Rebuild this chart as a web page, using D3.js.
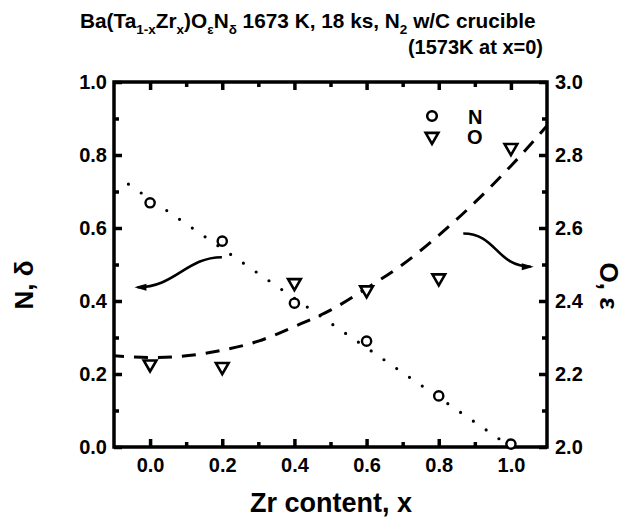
<!DOCTYPE html>
<html>
<head>
<meta charset="utf-8">
<script src="https://cdn.jsdelivr.net/npm/d3@7"></script>
<style>
  body { margin: 0; background: #fff; }
  svg { display: block; font-family: "Liberation Sans", Arial, sans-serif; font-weight: bold; }
</style>
</head>
<body>
<svg id="chart" width="625" height="519"></svg>
<script>
// measured data
var zr = [0.0, 0.2, 0.4, 0.6, 0.8, 1.0];
var nDelta = [0.669, 0.564, 0.394, 0.29, 0.14, 0.008];
var oEps = [2.227, 2.22, 2.45, 2.43, 2.463, 2.82];

// fitted lines
var nFitX = [-0.06, 1.0];
var nFitY = [0.72, 0.0];
var oFitX = [-0.1, 0.0, 0.1, 0.2, 0.3, 0.4, 0.5, 0.6, 0.7, 0.8, 0.9, 1.0, 1.1];
var oFitY = [2.25, 2.245, 2.25, 2.265, 2.29, 2.33, 2.375, 2.435, 2.5, 2.58, 2.67, 2.77, 2.88];

var xTicks = [0.0, 0.2, 0.4, 0.6, 0.8, 1.0];
var leftTicks = [0.0, 0.2, 0.4, 0.6, 0.8, 1.0];
var rightTicks = [2.0, 2.2, 2.4, 2.6, 2.8, 3.0];

var svg = d3.select('#chart');
var L = 114, R = 547, T = 82, B = 447;

var x = d3.scaleLinear().domain([-0.1, 1.1]).range([L, R]);
var yL = d3.scaleLinear().domain([0, 1]).range([B, T]);
var yR = d3.scaleLinear().domain([2, 3]).range([B, T]);

// minor ticks every 0.1
var xMinor = [0.1, 0.3, 0.5, 0.7, 0.9];
var yMinor = [0.1, 0.3, 0.5, 0.7, 0.9];

function tickStyle(g, w) {
	g.select('.domain').remove();
	g.selectAll('.tick line').attr('stroke', '#000').attr('stroke-width', w);
}

function labelStyle(g) {
	g.selectAll('text').attr('font-size', 20).attr('font-family', null).attr('fill', '#000');
}

// major + minor ticks on all four sides
var gx = svg.append('g').attr('transform', 'translate(0,' + B + ')')
	.call(d3.axisBottom(x).tickValues(xTicks).tickFormat(d3.format('.1f')).tickSizeInner(-8).tickSizeOuter(0).tickPadding(11));
tickStyle(gx, 3.5);
labelStyle(gx);
var gxm = svg.append('g').attr('transform', 'translate(0,' + B + ')')
	.call(d3.axisBottom(x).tickValues(xMinor).tickFormat('').tickSizeInner(-5).tickSizeOuter(0));
tickStyle(gxm, 3.5);

var gt = svg.append('g').attr('transform', 'translate(0,' + T + ')')
	.call(d3.axisTop(x).tickValues(xTicks).tickFormat('').tickSizeInner(-8).tickSizeOuter(0));
tickStyle(gt, 3.5);
var gtm = svg.append('g').attr('transform', 'translate(0,' + T + ')')
	.call(d3.axisTop(x).tickValues(xMinor).tickFormat('').tickSizeInner(-5).tickSizeOuter(0));
tickStyle(gtm, 3.5);

var gl = svg.append('g').attr('transform', 'translate(' + L + ',0)')
	.call(d3.axisLeft(yL).tickValues(leftTicks).tickFormat(d3.format('.1f')).tickSizeInner(-8).tickSizeOuter(0).tickPadding(7));
tickStyle(gl, 3.5);
labelStyle(gl);
var glm = svg.append('g').attr('transform', 'translate(' + L + ',0)')
	.call(d3.axisLeft(yL).tickValues(yMinor).tickFormat('').tickSizeInner(-5).tickSizeOuter(0));
tickStyle(glm, 3.5);

var gr = svg.append('g').attr('transform', 'translate(' + R + ',0)')
	.call(d3.axisRight(yR).tickValues(rightTicks).tickFormat(d3.format('.1f')).tickSizeInner(-8).tickSizeOuter(0).tickPadding(8));
tickStyle(gr, 3.5);
labelStyle(gr);
var grm = svg.append('g').attr('transform', 'translate(' + R + ',0)')
	.call(d3.axisRight(yR).tickValues(yMinor.map(function(v) { return v + 2; })).tickFormat('').tickSizeInner(-5).tickSizeOuter(0));
tickStyle(grm, 3.5);

// frame
svg.append('rect').attr('x', L).attr('y', T).attr('width', R - L).attr('height', B - T)
	.attr('fill', 'none').attr('stroke', '#000').attr('stroke-width', 3.5);

// fit lines
var nLine = d3.line().x(function(d, i) { return x(nFitX[i]); }).y(function(d) { return yL(d); });
svg.append('path').datum(nFitY).attr('d', nLine)
	.attr('fill', 'none').attr('stroke', '#000').attr('stroke-width', 3.2)
	.attr('stroke-linecap', 'round').attr('stroke-dasharray', '0 15.5');

var oLine = d3.line().curve(d3.curveMonotoneX).x(function(d, i) { return x(oFitX[i]); }).y(function(d) { return yR(d); });
svg.append('path').datum(oFitY).attr('d', oLine)
	.attr('fill', 'none').attr('stroke', '#000').attr('stroke-width', 3)
	.attr('stroke-dasharray', '14 10').attr('stroke-dashoffset', 4);

// markers
var tri = d3.symbol().type(d3.symbolTriangle).size(70);
svg.selectAll('.oPt').data(oEps).enter().append('path')
	.attr('class', 'oPt')
	.attr('d', tri)
	.attr('transform', function(d, i) { return 'translate(' + x(zr[i]) + ',' + yR(d) + ') rotate(180)'; })
	.attr('fill', '#fff').attr('stroke', '#000').attr('stroke-width', 2.6);

svg.selectAll('.nPt').data(nDelta).enter().append('circle')
	.attr('class', 'nPt')
	.attr('cx', function(d, i) { return x(zr[i]); })
	.attr('cy', function(d) { return yL(d); })
	.attr('r', 4.6)
	.attr('fill', '#fff').attr('stroke', '#000').attr('stroke-width', 2.4);

// legend
svg.append('circle').attr('cx', 432).attr('cy', 116).attr('r', 4.8)
	.attr('fill', 'none').attr('stroke', '#000').attr('stroke-width', 2.6);
svg.append('path').attr('d', tri).attr('transform', 'translate(432,136.5) rotate(180)')
	.attr('fill', 'none').attr('stroke', '#000').attr('stroke-width', 2.6);
svg.append('text').attr('x', 468).attr('y', 123.5).attr('font-size', 20).text('N');
svg.append('text').attr('x', 467).attr('y', 144).attr('font-size', 20).text('O');

// curved arrows pointing at the axis each series belongs to
function arrow(p0, c1, c2, p1, ys, dir) {
	var path = d3.path();
	path.moveTo(x(p0[0]), ys(p0[1]));
	path.bezierCurveTo(x(c1[0]), ys(c1[1]), x(c2[0]), ys(c2[1]), x(p1[0]), ys(p1[1]));
	svg.append('path').attr('d', path.toString())
		.attr('fill', 'none').attr('stroke', '#000').attr('stroke-width', 2.6);
	var ex = x(p1[0]), ey = ys(p1[1]);
	svg.append('path')
		.attr('d', 'M' + (ex + dir * 3) + ',' + ey + 'L' + (ex - dir * 9) + ',' + (ey - 3.5) + 'L' + (ex - dir * 9) + ',' + (ey + 3.5) + 'Z')
		.attr('fill', '#000');
}
arrow([0.199, 0.52], [0.10, 0.52], [0.07, 0.4375], [-0.035, 0.4375], yL, -1);
arrow([0.868, 2.585], [0.96, 2.585], [0.96, 2.494], [1.055, 2.494], yR, 1);

// title
var t1 = svg.append('text').attr('x', 80).attr('y', 28).attr('font-size', 20.8);
function sub(t, s) { t.append('tspan').attr('font-size', 13.5).attr('dy', 6).text(s); }
function main(t, s) { t.append('tspan').attr('dy', -6).text(s); }
t1.append('tspan').text('Ba(Ta');
sub(t1, '1-x'); main(t1, 'Zr');
sub(t1, 'x'); main(t1, ')O');
sub(t1, 'ε'); main(t1, 'N');
sub(t1, 'δ'); main(t1, ' 1673 K, 18 ks, N');
sub(t1, '2'); main(t1, ' w/C crucible');

svg.append('text').attr('x', 543).attr('y', 54).attr('font-size', 20)
	.attr('text-anchor', 'end').text('(1573K at x=0)');

// axis titles
svg.append('text').attr('transform', 'translate(331,512)').attr('text-anchor', 'middle')
	.attr('font-size', 27).text('Zr content, x');
svg.append('text').attr('transform', 'translate(33,285) rotate(-90)').attr('text-anchor', 'middle')
	.attr('font-size', 26).text('N, δ');
svg.append('text').attr('transform', 'translate(600,286) rotate(90)').attr('text-anchor', 'middle')
	.attr('font-size', 26).text('O, ε');
</script>
</body>
</html>
